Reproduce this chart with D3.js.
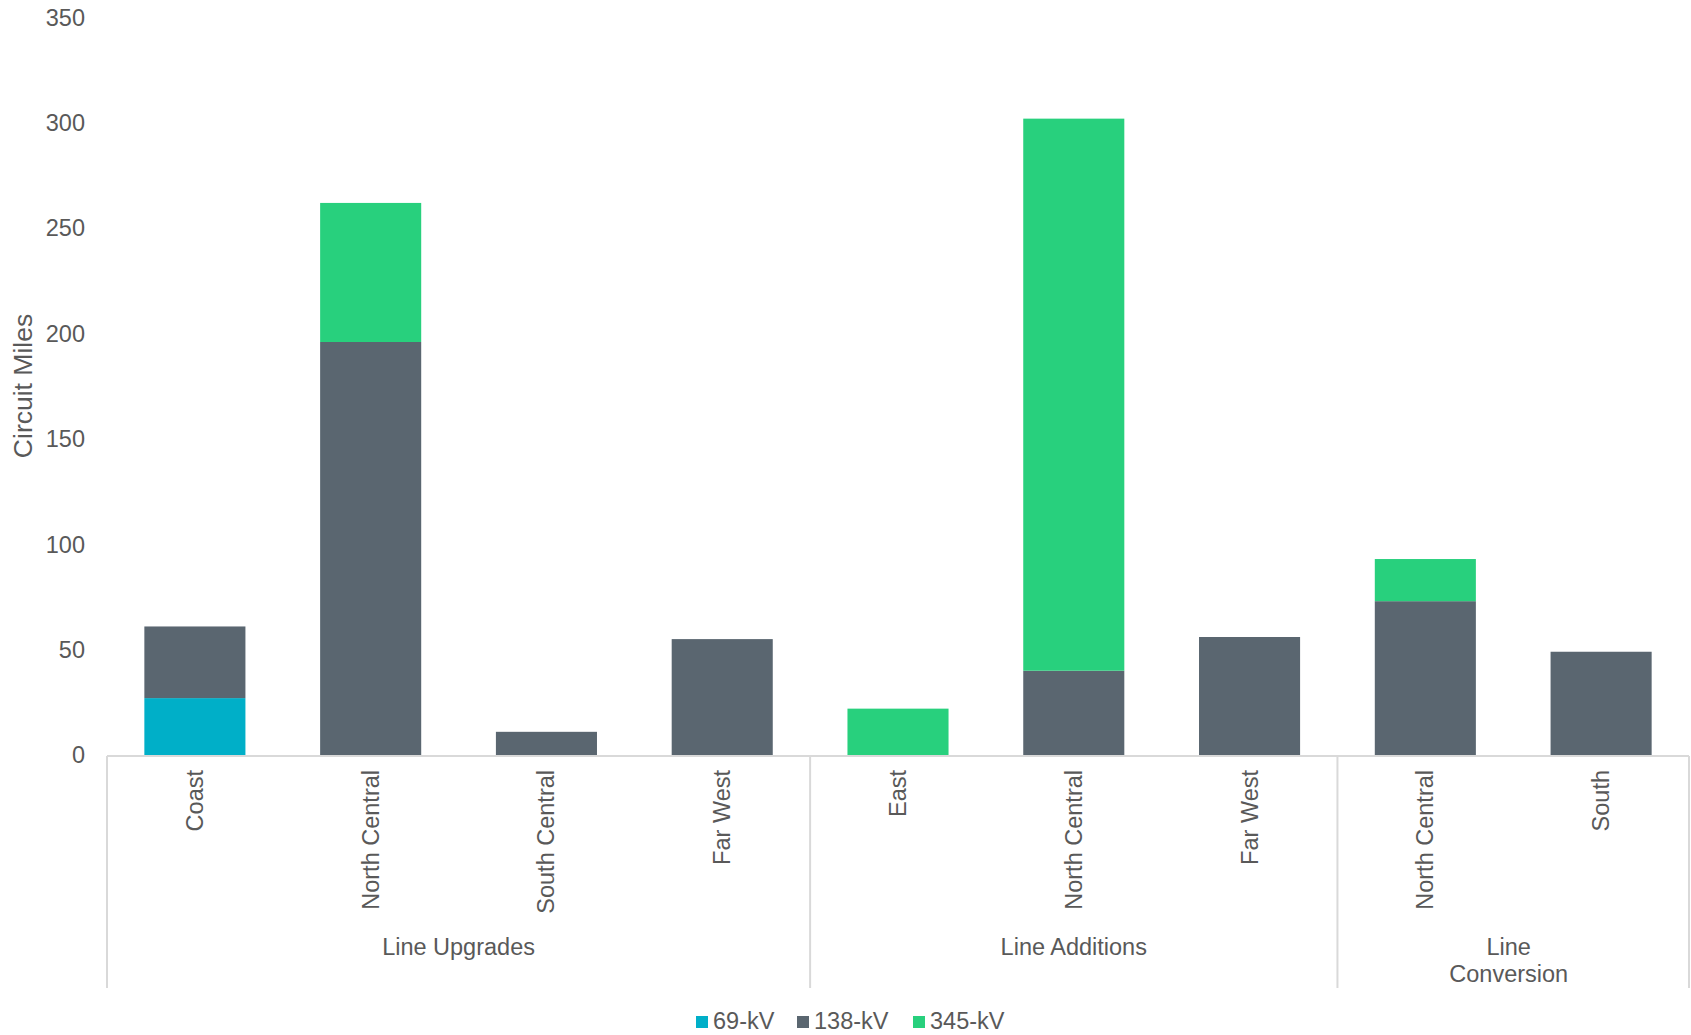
<!DOCTYPE html>
<html><head><meta charset="utf-8">
<script src="https://cdn.jsdelivr.net/npm/d3@7"></script>
<style>
html,body{margin:0;padding:0;background:#fff;}
svg{display:block;font-family:"Liberation Sans",Arial,sans-serif;}
</style></head>
<body>
<svg id="chart" width="1691" height="1035"></svg>
<script>
const groups = ["Line Upgrades","Line Additions","Line Conversion"];
const categories = ["Coast","North Central","South Central","Far West","East","North Central","Far West","North Central","South"];
const categoryGroup = [0,0,0,0,1,1,1,2,2];
const seriesNames = ["69-kV","138-kV","345-kV"];
const seriesColors = ["#00AFC8","#5A6670","#28D07D"];
const kv69  = [27,0,0,0,0,0,0,0,0];
const kv138 = [34,196,11,55,0,40,56,73,49];
const kv345 = [0,66,0,0,22,262,0,20,0];
const yTicks = [0,50,100,150,200,250,300,350];

const svg = d3.select("#chart");
const textColor = "#595959";
const lineColor = "#D9D9D9";
const fs = 23.5;

const x = d3.scaleBand().domain(d3.range(categories.length)).range([107,1689]).paddingInner(0.425).paddingOuter(0.2125);
const y = d3.scaleLinear().domain([0,350]).range([755,17.5]);

// y tick labels
svg.append("g").selectAll("text").data(yTicks).join("text")
  .attr("x",85).attr("y",d=>y(d)).attr("dy","0.35em")
  .attr("text-anchor","end").attr("font-size",fs).attr("fill",textColor)
  .text(d=>d);

// y axis title
svg.append("text").attr("transform","translate(32,386) rotate(-90)")
  .attr("text-anchor","middle").attr("font-size",26.5).attr("fill",textColor)
  .text("Circuit Miles");

// stacked bars
const rows = categories.map((c,i)=>({i, s0:kv69[i], s1:kv138[i], s2:kv345[i]}));
const stack = d3.stack().keys(["s0","s1","s2"])(rows);
svg.append("g").selectAll("g").data(stack).join("g")
  .attr("fill",(d,k)=>seriesColors[k])
  .selectAll("rect").data(d=>d.filter(p=>p[1]-p[0]>0)).join("rect")
  .attr("x",d=>x(d.data.i)).attr("width",x.bandwidth())
  .attr("y",d=>y(d[1])).attr("height",d=>y(d[0])-y(d[1]));

// axis baseline
svg.append("line").attr("x1",107).attr("x2",1689).attr("y1",y(0)+1).attr("y2",y(0)+1)
  .attr("stroke",lineColor).attr("stroke-width",2);

// category labels
svg.append("g").selectAll("text").data(categories).join("text")
  .attr("transform",(d,i)=>`translate(${x(i)+x.bandwidth()/2+8},770) rotate(-90)`)
  .attr("text-anchor","end").attr("font-size",fs).attr("fill",textColor)
  .text(d=>d);

// group separators
const groupBounds = groups.map((g,gi)=>{
  const idx = categoryGroup.map((v,i)=>v===gi?i:-1).filter(i=>i>=0);
  const x0 = x(idx[0]) - x.step()*x.paddingInner()/2 - (idx[0]===0 ? x.step()*x.paddingOuter()-x.step()*x.paddingInner()/2 : 0);
  const last = idx[idx.length-1];
  const x1 = x(last) + x.bandwidth() + x.step()*x.paddingInner()/2 + (last===categories.length-1 ? x.step()*x.paddingOuter()-x.step()*x.paddingInner()/2 : 0);
  return {g, x0, x1};
});
const sepX = [groupBounds[0].x0, ...groupBounds.map(b=>b.x1)];
svg.append("g").selectAll("line").data(sepX).join("line")
  .attr("x1",d=>d).attr("x2",d=>d).attr("y1",y(0)+1).attr("y2",988)
  .attr("stroke",lineColor).attr("stroke-width",2);

// group labels
const labelX = d => (d.x0+d.x1)/2 - (d.g==="Line Conversion" ? 4.5 : 0);
const gl = svg.append("g").selectAll("text").data(groupBounds).join("text")
  .attr("text-anchor","middle").attr("font-size",fs).attr("fill",textColor)
  .attr("x",labelX).attr("y",955);
gl.each(function(d){
  const t = d3.select(this);
  const parts = d.g==="Line Conversion" ? ["Line","Conversion"] : [d.g];
  parts.forEach((p,k)=>t.append("tspan").attr("x",labelX(d)).attr("dy",k===0?0:27).text(p));
});

// legend
const legendX = [696,797,913];
const lg = svg.append("g").selectAll("g").data(seriesNames).join("g")
  .attr("transform",(d,i)=>`translate(${legendX[i]},0)`);
lg.append("rect").attr("x",0).attr("y",1016).attr("width",12).attr("height",12)
  .attr("fill",(d,i)=>seriesColors[i]);
lg.append("text").attr("x",17).attr("y",1029).attr("font-size",fs).attr("fill",textColor).text(d=>d);
</script>
</body></html>
